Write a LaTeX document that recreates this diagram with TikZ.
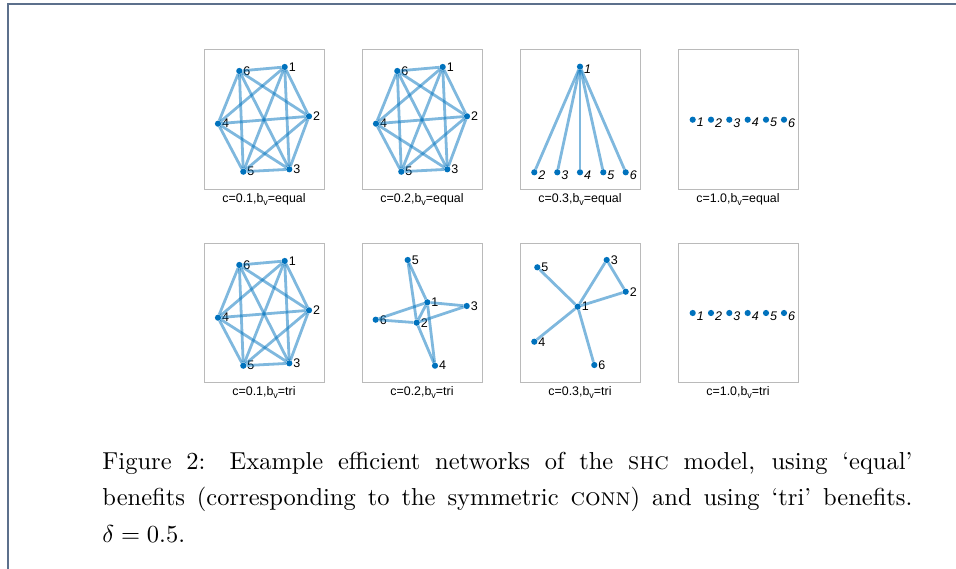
\documentclass[tikz,border=0pt]{standalone}
\usepackage{fontspec}
\setsansfont{Liberation Sans}
\usetikzlibrary{positioning}
\definecolor{mblue}{rgb}{0,0.447,0.741}
\definecolor{framecol}{RGB}{92,112,140}
\tikzset{
	vertex/.style={circle,fill=mblue,inner sep=0pt,minimum size=6.2pt},
	edge/.style={draw=mblue,opacity=0.5,line width=2.8pt},
	lab/.style={inner sep=0.6pt,font=\sffamily\fontsize{12.5}{12.5}\selectfont},
	ilab/.style={inner sep=0.6pt,yshift=-3pt,font=\sffamily\itshape\fontsize{12.5}{12.5}\selectfont},
	panel/.style={draw=black!27,line width=0.9pt},
	ptitle/.style={inner sep=0pt,anchor=base,font=\sffamily\fontsize{12.4}{12.4}\selectfont}}
\newcommand{\bvsub}{b\raisebox{-3.5pt}{\fontsize{9}{9}\selectfont v}}
\begin{document}
\begin{tikzpicture}[x=1pt,y=-1pt]
	\useasboundingbox (0,0) rectangle (956,569);
	\draw [framecol,line width=1.5pt] (8,569) -- (8,4) -- (956,4);
	% panel boxes
	\draw [panel] (204,49) rectangle (324,189);
	\draw [panel] (362,49) rectangle (482,189);
	\draw [panel] (520,49) rectangle (640,189);
	\draw [panel] (678,49) rectangle (798,189);
	\draw [panel] (204,243) rectangle (324,382);
	\draw [panel] (362,243) rectangle (482,382);
	\draw [panel] (520,243) rectangle (640,382);
	\draw [panel] (678,243) rectangle (798,382);
	% c=0.1, equal
	\begin{scope}[shift={(204,49)}]
	\node (A1) at (80.7,18) [vertex,label={[lab]right:1}] {};
	\node (A2) at (105,67.3) [vertex,label={[lab]right:2}] {};
	\node (A3) at (85.3,120.3) [vertex,label={[lab]right:3}] {};
	\node (A4) at (14,74.7) [vertex,label={[lab]right:4}] {};
	\node (A5) at (39.3,122.7) [vertex,label={[lab]right:5}] {};
	\node (A6) at (35.3,22) [vertex,label={[lab]right:6}] {};
	\draw [edge] (A1) -- (A2);
	\draw [edge] (A1) -- (A3);
	\draw [edge] (A1) -- (A4);
	\draw [edge] (A1) -- (A5);
	\draw [edge] (A1) -- (A6);
	\draw [edge] (A2) -- (A3);
	\draw [edge] (A2) -- (A4);
	\draw [edge] (A2) -- (A5);
	\draw [edge] (A2) -- (A6);
	\draw [edge] (A3) -- (A4);
	\draw [edge] (A3) -- (A5);
	\draw [edge] (A3) -- (A6);
	\draw [edge] (A4) -- (A5);
	\draw [edge] (A4) -- (A6);
	\draw [edge] (A5) -- (A6);
	\end{scope}
	% c=0.2, equal
	\begin{scope}[shift={(362,49)}]
	\node (B1) at (80.7,18) [vertex,label={[lab]right:1}] {};
	\node (B2) at (105,67.3) [vertex,label={[lab]right:2}] {};
	\node (B3) at (85.3,120.3) [vertex,label={[lab]right:3}] {};
	\node (B4) at (14,74.7) [vertex,label={[lab]right:4}] {};
	\node (B5) at (39.3,122.7) [vertex,label={[lab]right:5}] {};
	\node (B6) at (35.3,22) [vertex,label={[lab]right:6}] {};
	\draw [edge] (B1) -- (B2);
	\draw [edge] (B1) -- (B3);
	\draw [edge] (B1) -- (B4);
	\draw [edge] (B1) -- (B5);
	\draw [edge] (B1) -- (B6);
	\draw [edge] (B2) -- (B3);
	\draw [edge] (B2) -- (B4);
	\draw [edge] (B2) -- (B5);
	\draw [edge] (B2) -- (B6);
	\draw [edge] (B3) -- (B4);
	\draw [edge] (B3) -- (B5);
	\draw [edge] (B3) -- (B6);
	\draw [edge] (B4) -- (B5);
	\draw [edge] (B4) -- (B6);
	\draw [edge] (B5) -- (B6);
	\end{scope}
	% c=0.3, equal
	\begin{scope}[shift={(520,49)}]
	\node (C1) at (60,17.7) [vertex,label={[ilab]right:1}] {};
	\node (C2) at (14.3,123.3) [vertex,label={[ilab]right:2}] {};
	\node (C3) at (37.3,123.3) [vertex,label={[ilab]right:3}] {};
	\node (C4) at (60,123.3) [vertex,label={[ilab]right:4}] {};
	\node (C5) at (83.3,123.3) [vertex,label={[ilab]right:5}] {};
	\node (C6) at (105.7,123.3) [vertex,label={[ilab]right:6}] {};
	\draw [edge] (C1) -- (C2);
	\draw [edge] (C1) -- (C3);
	\draw [edge] (C1) -- (C4);
	\draw [edge] (C1) -- (C5);
	\draw [edge] (C1) -- (C6);
	\end{scope}
	% c=1.0, equal
	\begin{scope}[shift={(678,49)}]
	\node (D1) at (14.7,70.7) [vertex,label={[ilab]right:1}] {};
	\node (D2) at (33,70.7) [vertex,label={[ilab]right:2}] {};
	\node (D3) at (51.3,70.7) [vertex,label={[ilab]right:3}] {};
	\node (D4) at (69.7,70.7) [vertex,label={[ilab]right:4}] {};
	\node (D5) at (88,70.7) [vertex,label={[ilab]right:5}] {};
	\node (D6) at (106,70.7) [vertex,label={[ilab]right:6}] {};
	\end{scope}
	% c=0.1, tri
	\begin{scope}[shift={(204,243)}]
	\node (E1) at (80.7,18) [vertex,label={[lab]right:1}] {};
	\node (E2) at (105,67.3) [vertex,label={[lab]right:2}] {};
	\node (E3) at (85.3,120.3) [vertex,label={[lab]right:3}] {};
	\node (E4) at (14,74.7) [vertex,label={[lab]right:4}] {};
	\node (E5) at (39.3,122.7) [vertex,label={[lab]right:5}] {};
	\node (E6) at (35.3,22) [vertex,label={[lab]right:6}] {};
	\draw [edge] (E1) -- (E2);
	\draw [edge] (E1) -- (E3);
	\draw [edge] (E1) -- (E4);
	\draw [edge] (E1) -- (E5);
	\draw [edge] (E1) -- (E6);
	\draw [edge] (E2) -- (E3);
	\draw [edge] (E2) -- (E4);
	\draw [edge] (E2) -- (E5);
	\draw [edge] (E2) -- (E6);
	\draw [edge] (E3) -- (E4);
	\draw [edge] (E3) -- (E5);
	\draw [edge] (E3) -- (E6);
	\draw [edge] (E4) -- (E5);
	\draw [edge] (E4) -- (E6);
	\draw [edge] (E5) -- (E6);
	\end{scope}
	% c=0.2, tri
	\begin{scope}[shift={(362,243)}]
	\node (F1) at (65.3,59.3) [vertex,label={[lab]right:1}] {};
	\node (F2) at (54.7,79.7) [vertex,label={[lab]right:2}] {};
	\node (F3) at (104.7,63) [vertex,label={[lab]right:3}] {};
	\node (F4) at (73,122.7) [vertex,label={[lab]right:4}] {};
	\node (F5) at (45.7,17) [vertex,label={[lab]right:5}] {};
	\node (F6) at (13.7,76.7) [vertex,label={[lab]right:6}] {};
	\draw [edge] (F1) -- (F2);
	\draw [edge] (F1) -- (F3);
	\draw [edge] (F1) -- (F4);
	\draw [edge] (F1) -- (F5);
	\draw [edge] (F1) -- (F6);
	\draw [edge] (F2) -- (F3);
	\draw [edge] (F2) -- (F4);
	\draw [edge] (F2) -- (F5);
	\draw [edge] (F2) -- (F6);
	\end{scope}
	% c=0.3, tri
	\begin{scope}[shift={(520,243)}]
	\node (G1) at (57.7,63.7) [vertex,label={[lab]right:1}] {};
	\node (G2) at (105.7,48.7) [vertex,label={[lab]right:2}] {};
	\node (G3) at (86.7,17) [vertex,label={[lab]right:3}] {};
	\node (G4) at (14.3,98.7) [vertex,label={[lab]right:4}] {};
	\node (G5) at (17.3,24.3) [vertex,label={[lab]right:5}] {};
	\node (G6) at (74.3,122) [vertex,label={[lab]right:6}] {};
	\draw [edge] (G1) -- (G2);
	\draw [edge] (G1) -- (G3);
	\draw [edge] (G1) -- (G4);
	\draw [edge] (G1) -- (G5);
	\draw [edge] (G1) -- (G6);
	\draw [edge] (G2) -- (G3);
	\end{scope}
	% c=1.0, tri
	\begin{scope}[shift={(678,243)}]
	\node (H1) at (14.7,70) [vertex,label={[ilab]right:1}] {};
	\node (H2) at (33,70) [vertex,label={[ilab]right:2}] {};
	\node (H3) at (51.3,70) [vertex,label={[ilab]right:3}] {};
	\node (H4) at (69.7,70) [vertex,label={[ilab]right:4}] {};
	\node (H5) at (88,70) [vertex,label={[ilab]right:5}] {};
	\node (H6) at (106,70) [vertex,label={[ilab]right:6}] {};
	\end{scope}
	% panel titles
	\node (tA) at (264,202.5) [ptitle] {c=0.1,\bvsub=equal};
	\node (tB) at (422,202.5) [ptitle] {c=0.2,\bvsub=equal};
	\node (tC) at (580,202.5) [ptitle] {c=0.3,\bvsub=equal};
	\node (tD) at (738,202.5) [ptitle] {c=1.0,\bvsub=equal};
	\node (tE) at (264,395) [ptitle] {c=0.1,\bvsub=tri};
	\node (tF) at (422,395) [ptitle] {c=0.2,\bvsub=tri};
	\node (tG) at (580,395) [ptitle] {c=0.3,\bvsub=tri};
	\node (tH) at (738,395) [ptitle] {c=1.0,\bvsub=tri};
	% caption
	\node (cap) at (102,469) [anchor=base west,inner sep=0pt,scale=2.45,transform shape,text width=330.6pt,align=justify,font=\fontsize{10}{14.9}\selectfont]
	{Figure 2: Example efficient networks of the \textsc{shc} model, using `equal'\linebreak
	benefits (corresponding to the symmetric \textsc{conn}) and using `tri' benefits.\linebreak
	$\delta=0.5$.};
\end{tikzpicture}
\end{document}
